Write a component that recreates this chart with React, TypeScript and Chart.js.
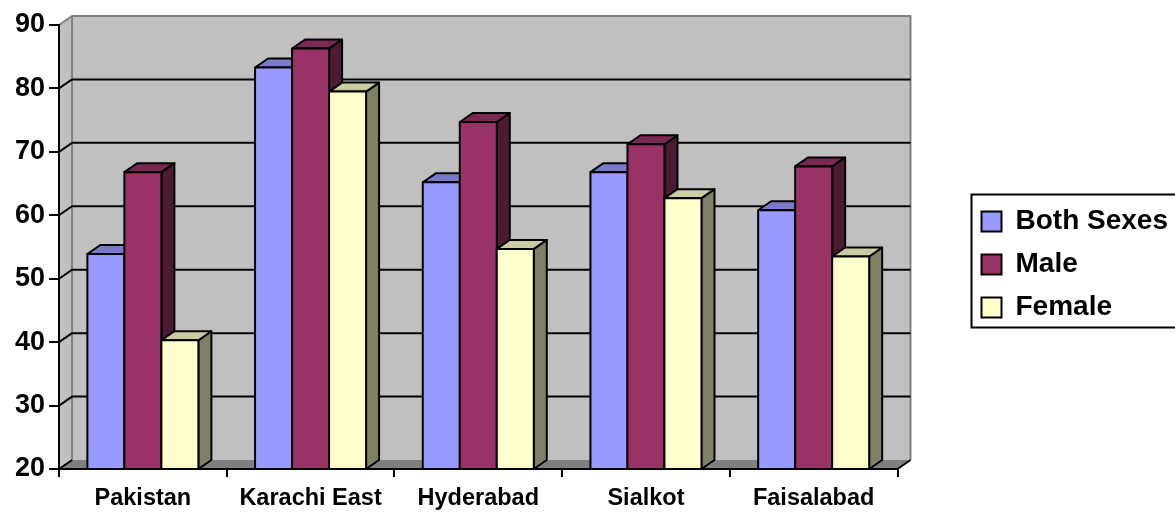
import React, { useEffect, useRef } from "react";
import { Chart, registerables } from "chart.js";

Chart.register(...registerables);

const categories = ["Pakistan", "Karachi East", "Hyderabad", "Sialkot", "Faisalabad"];
const bothSexes = [53.9, 83.3, 65.2, 66.8, 60.8];
const male = [66.8, 86.3, 74.7, 71.2, 67.7];
const female = [40.3, 79.5, 54.7, 62.7, 53.5];
const seriesNames = ["Both Sexes", "Male", "Female"];
const frontColors = ["#9999FF", "#993366", "#FFFFCC"];
const topColors = ["#7A7ACC", "#7A2952", "#CCCCA3"];
const sideColors = ["#4D4D80", "#4D1A33", "#808066"];
const yMin = 20;
const yMax = 90;

const DX = 13;
const DY = -9;

const shade3d = {
  id: "shade3d",
  afterLayout(chart: any) {
    const lg = chart.legend;
    if (lg) {
      lg.bottom -= 8;
      lg.height -= 8;
    }
  },
  beforeDraw(chart: any) {
    const { ctx, chartArea, scales } = chart;
    const L = chartArea.left, R = chartArea.right, T = chartArea.top, B = chartArea.bottom;
    const ys = scales.y;
    ctx.save();
    ctx.lineJoin = "round";
    ctx.fillStyle = "#C0C0C0";
    ctx.fillRect(L + DX, T + DY, R - L, B - T);
    ctx.beginPath();
    ctx.moveTo(L, T);
    ctx.lineTo(L + DX, T + DY);
    ctx.lineTo(L + DX, B + DY);
    ctx.lineTo(L, B);
    ctx.closePath();
    ctx.fill();
    ctx.fillStyle = "#808080";
    ctx.beginPath();
    ctx.moveTo(L, B);
    ctx.lineTo(L + DX, B + DY);
    ctx.lineTo(R + DX, B + DY);
    ctx.lineTo(R, B);
    ctx.closePath();
    ctx.fill();
    ctx.strokeStyle = "#808080";
    ctx.lineWidth = 2;
    ctx.beginPath();
    ctx.moveTo(L, T);
    ctx.lineTo(L + DX, T + DY);
    ctx.lineTo(R + DX, T + DY);
    ctx.lineTo(R + DX, B + DY);
    ctx.moveTo(L + DX, T + DY);
    ctx.lineTo(L + DX, B + DY);
    ctx.stroke();
    ctx.strokeStyle = "#000";
    ctx.lineWidth = 2;
    ctx.beginPath();
    for (const t of ys.ticks) {
      const v = t.value;
      if (v <= ys.min || v >= ys.max) continue;
      const py = ys.getPixelForValue(v);
      ctx.moveTo(L, py);
      ctx.lineTo(L + DX, py + DY);
      ctx.lineTo(R + DX, py + DY);
    }
    ctx.moveTo(L, B);
    ctx.lineTo(L + DX, B + DY);
    ctx.moveTo(R, B);
    ctx.lineTo(R + DX, B + DY);
    ctx.stroke();
    ctx.restore();
  },
  afterDatasetsDraw(chart: any) {
    const { ctx, chartArea } = chart;
    const n = chart.data.labels.length;
    const nd = chart.data.datasets.length;
    ctx.save();
    ctx.lineJoin = "round";
    ctx.lineWidth = 2;
    ctx.strokeStyle = "#000";
    for (let j = 0; j < n; j++) {
      for (let i = 0; i < nd; i++) {
        const el = chart.getDatasetMeta(i).data[j];
        const p = el.getProps(["x", "y", "base", "width"], true);
        const x = p.x, width = p.width;
        const y = Math.max(p.y, chartArea.top);
        const base = Math.min(p.base, chartArea.bottom);
        const l = x - width / 2;
        const r = x + width / 2;
        ctx.fillStyle = sideColors[i];
        ctx.beginPath();
        ctx.moveTo(r, y);
        ctx.lineTo(r + DX, y + DY);
        ctx.lineTo(r + DX, base + DY);
        ctx.lineTo(r, base);
        ctx.closePath();
        ctx.fill();
        ctx.stroke();
        ctx.fillStyle = topColors[i];
        ctx.beginPath();
        ctx.moveTo(l, y);
        ctx.lineTo(l + DX, y + DY);
        ctx.lineTo(r + DX, y + DY);
        ctx.lineTo(r, y);
        ctx.closePath();
        ctx.fill();
        ctx.stroke();
        ctx.fillStyle = frontColors[i];
        ctx.beginPath();
        ctx.rect(l, y, width, base - y);
        ctx.fill();
        ctx.stroke();
      }
    }
    ctx.restore();
  },
  afterDraw(chart: any) {
    const lg = chart.legend;
    if (!lg || !lg.legendHitBoxes || !lg.legendHitBoxes.length) return;
    const hb = lg.legendHitBoxes;
    const first = hb[0];
    const last = hb[hb.length - 1];
    const { ctx } = chart;
    ctx.save();
    ctx.strokeStyle = "#000";
    ctx.lineWidth = 2;
    const top = first.top - 13;
    const bottom = last.top + last.height + 6;
    ctx.strokeRect(first.left - 10, top, 400, bottom - top);
    ctx.restore();
  },
};

export default function App() {
  const ref = useRef<HTMLCanvasElement | null>(null);
  useEffect(() => {
    if (!ref.current) return;
    const font = "'Liberation Sans', Arial, sans-serif";
    Chart.defaults.font.family = font;
    const chart = new Chart(ref.current, {
      type: "bar",
      data: {
        labels: categories,
        datasets: [bothSexes, male, female].map((d, i) => ({
          label: seriesNames[i],
          data: d,
          backgroundColor: frontColors[i],
          borderColor: "#000",
          borderWidth: 2,
          categoryPercentage: 0.662,
          barPercentage: 1.0,
        })),
      },
      options: {
        animation: false,
        responsive: true,
        maintainAspectRatio: false,
        layout: { padding: { left: 11, top: 25, right: 0, bottom: 0 } },
        plugins: {
          tooltip: { enabled: false },
          legend: {
            position: "right",
            maxWidth: 320,
            labels: {
              boxWidth: 20,
              boxHeight: 20,
              padding: 15,
              color: "#000",
              font: { size: 28, weight: "bold", family: font },
            },
          },
        },
        scales: {
          x: {
            grid: {
              offset: true,
              drawOnChartArea: false,
              drawTicks: true,
              tickLength: 8,
              color: "#000",
              lineWidth: 2,
            },
            border: { display: true, color: "#000", width: 2 },
            ticks: {
              color: "#000",
              padding: 7,
              maxRotation: 0,
              autoSkip: false,
              font: { size: 23.5, weight: "bold", family: font },
            },
            afterFit: (s: any) => {
              s.height = 43;
            },
          },
          y: {
            min: yMin,
            max: yMax,
            grid: {
              drawOnChartArea: false,
              drawTicks: true,
              tickLength: 10,
              color: "#000",
              lineWidth: 2,
            },
            border: { display: true, color: "#000", width: 2 },
            ticks: {
              stepSize: 10,
              color: "#000",
              padding: 4,
              font: { size: 27, weight: "bold", family: font },
            },
          },
          spacer: {
            type: "linear",
            position: "right",
            display: true,
            grid: { display: false },
            border: { display: false },
            ticks: { display: false },
            afterFit: (s: any) => {
              s.width = 69;
            },
          },
        },
      },
      plugins: [shade3d],
    } as any);
    return () => chart.destroy();
  }, []);
  return (
    <div style={{ position: "fixed", left: 0, top: 0, width: 1175, height: 512, overflow: "hidden", background: "#fff" }}>
      <div style={{ position: "relative", width: 1178, height: 512 }}>
        <canvas ref={ref} />
      </div>
    </div>
  );
}
